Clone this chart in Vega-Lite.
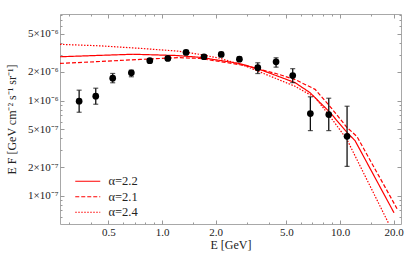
{
  "$schema": "https://vega.github.io/schema/vega-lite/v6.json",
  "width": 341,
  "height": 210,
  "autosize": "none",
  "padding": {"left": 60, "top": 14, "right": 4, "bottom": 32},
  "background": "white",
  "config": {
    "view": {"stroke": "#a8a8a8", "strokeWidth": 1},
    "axis": {
      "domain": false, "grid": false,
      "labelFont": "Liberation Serif", "titleFont": "Liberation Serif",
      "labelColor": "#222", "titleColor": "#222", "tickColor": "#999",
      "titleFontWeight": "normal", "labelFontSize": 11, "titleFontSize": 12
    },
    "legend": {
      "labelFont": "Liberation Serif", "labelFontSize": 12.5, "labelColor": "#222"
    }
  },
  "datasets": {
    "pts": [
      {"E": 0.342, "F": 0.983e-6, "lo": 0.753e-6, "hi": 1.284e-6},
      {"E": 0.424, "F": 1.110e-6, "lo": 0.914e-6, "hi": 1.347e-6},
      {"E": 0.528, "F": 1.717e-6, "lo": 1.536e-6, "hi": 1.923e-6},
      {"E": 0.672, "F": 1.957e-6, "lo": 1.776e-6, "hi": 2.084e-6},
      {"E": 0.853, "F": 2.618e-6, "lo": 2.49e-6, "hi": 2.75e-6},
      {"E": 1.077, "F": 2.77e-6, "lo": 2.64e-6, "hi": 2.9e-6},
      {"E": 1.364, "F": 3.2e-6, "lo": 3.05e-6, "hi": 3.36e-6},
      {"E": 1.72, "F": 2.88e-6, "lo": 2.75e-6, "hi": 3.03e-6},
      {"E": 2.15, "F": 3.05e-6, "lo": 2.9e-6, "hi": 3.2e-6},
      {"E": 2.72, "F": 2.72e-6, "lo": 2.59e-6, "hi": 2.86e-6},
      {"E": 3.45, "F": 2.21e-6, "lo": 1.92e-6, "hi": 2.49e-6},
      {"E": 4.37, "F": 2.55e-6, "lo": 2.24e-6, "hi": 2.81e-6},
      {"E": 5.42, "F": 1.83e-6, "lo": 1.54e-6, "hi": 2.16e-6},
      {"E": 6.81, "F": 0.730e-6, "lo": 0.483e-6, "hi": 1.094e-6},
      {"E": 8.64, "F": 0.712e-6, "lo": 0.483e-6, "hi": 1.057e-6},
      {"E": 10.95, "F": 0.421e-6, "lo": 0.2034e-6, "hi": 0.871e-6}
    ],
    "curves": [
      {"model": "α=2.2", "E": 0.267, "F": 2.88e-6},
      {"model": "α=2.2", "E": 0.449, "F": 2.98e-6},
      {"model": "α=2.2", "E": 0.687, "F": 3.06e-6},
      {"model": "α=2.2", "E": 1.20, "F": 2.97e-6},
      {"model": "α=2.2", "E": 1.635, "F": 2.84e-6},
      {"model": "α=2.2", "E": 2.71, "F": 2.45e-6},
      {"model": "α=2.2", "E": 3.42, "F": 2.17e-6},
      {"model": "α=2.2", "E": 4.37, "F": 1.83e-6},
      {"model": "α=2.2", "E": 5.59, "F": 1.54e-6},
      {"model": "α=2.2", "E": 6.78, "F": 1.21e-6},
      {"model": "α=2.2", "E": 8.79, "F": 0.748e-6},
      {"model": "α=2.2", "E": 10.95, "F": 0.461e-6},
      {"model": "α=2.2", "E": 12.14, "F": 0.379e-6},
      {"model": "α=2.2", "E": 20.1, "F": 6.62e-8},
      {"model": "α=2.1", "E": 0.267, "F": 2.45e-6},
      {"model": "α=2.1", "E": 0.449, "F": 2.57e-6},
      {"model": "α=2.1", "E": 0.752, "F": 2.70e-6},
      {"model": "α=2.1", "E": 1.23, "F": 2.82e-6},
      {"model": "α=2.1", "E": 1.635, "F": 2.77e-6},
      {"model": "α=2.1", "E": 2.93, "F": 2.33e-6},
      {"model": "α=2.1", "E": 4.37, "F": 1.92e-6},
      {"model": "α=2.1", "E": 5.59, "F": 1.66e-6},
      {"model": "α=2.1", "E": 7.24, "F": 1.31e-6},
      {"model": "α=2.1", "E": 8.79, "F": 0.865e-6},
      {"model": "α=2.1", "E": 10.95, "F": 0.520e-6},
      {"model": "α=2.1", "E": 12.46, "F": 0.418e-6},
      {"model": "α=2.1", "E": 20.9, "F": 7.3e-8},
      {"model": "α=2.4", "E": 0.267, "F": 3.89e-6},
      {"model": "α=2.4", "E": 0.449, "F": 3.75e-6},
      {"model": "α=2.4", "E": 0.752, "F": 3.53e-6},
      {"model": "α=2.4", "E": 1.23, "F": 3.30e-6},
      {"model": "α=2.4", "E": 1.635, "F": 3.05e-6},
      {"model": "α=2.4", "E": 2.12, "F": 2.77e-6},
      {"model": "α=2.4", "E": 2.93, "F": 2.31e-6},
      {"model": "α=2.4", "E": 4.37, "F": 1.70e-6},
      {"model": "α=2.4", "E": 5.59, "F": 1.41e-6},
      {"model": "α=2.4", "E": 7.24, "F": 1.075e-6},
      {"model": "α=2.4", "E": 8.79, "F": 0.679e-6},
      {"model": "α=2.4", "E": 10.95, "F": 0.389e-6},
      {"model": "α=2.4", "E": 11.37, "F": 0.336e-6},
      {"model": "α=2.4", "E": 18.8, "F": 5.07e-8}
    ]
  },
  "layer": [
    {
      "data": {"name": "curves"},
      "mark": {"type": "line", "clip": true, "strokeWidth": 1.2, "color": "#ff0000"},
      "encoding": {
        "x": {"field": "E", "type": "quantitative",
          "scale": {"type": "log", "domain": [0.267, 22], "nice": false},
          "axis": {"orient": "bottom", "values": [0.5, 1, 2, 5, 10, 20], "format": ".1f", "tickSize": -4, "labelPadding": 6,
            "title": "E [GeV]", "titleX": 170.5, "titleY": 20, "titleBaseline": "middle", "titleAlign": "center"}},
        "y": {"field": "F", "type": "quantitative",
          "scale": {"type": "log", "domain": [5.05e-8, 8.1e-6], "nice": false},
          "axis": {"orient": "left", "values": [1e-7, 2e-7, 5e-7, 1e-6, 2e-6, 5e-6], "tickSize": -4, "labelPadding": 6,
            "labelExpr": "datum.value > 4e-6 ? '5×10⁻⁶' : datum.value > 1.5e-6 ? '2×10⁻⁶' : datum.value > 9e-7 ? '1×10⁻⁶' : datum.value > 4e-7 ? '5×10⁻⁷' : datum.value > 1.5e-7 ? '2×10⁻⁷' : '1×10⁻⁷'",
            "title": "E F [GeV cm⁻² s⁻¹ sr⁻¹]", "titleX": -49, "titleY": 105, "titleAngle": -90, "titleBaseline": "middle", "titleAlign": "center"}},
        "strokeDash": {"field": "model", "type": "nominal",
          "scale": {"domain": ["α=2.2", "α=2.1", "α=2.4"], "range": [[1, 0], [4, 2], [1.5, 1.5]]},
          "legend": {"orient": "none", "legendX": 21.5, "legendY": 161, "title": null, "padding": 0,
            "symbolType": "M-2.5,0H2.5", "symbolSize": 100, "symbolStrokeColor": "#ff0000", "symbolFillColor": "transparent",
            "symbolStrokeWidth": 1.2, "labelOffset": 14.5, "rowPadding": 2.5}}
      }
    },
    {
      "data": {"name": "pts"},
      "mark": {"type": "rule", "color": "#111", "strokeWidth": 1.3},
      "encoding": {
        "x": {"field": "E", "type": "quantitative",
          "scale": {"type": "log", "domain": [0.267, 22], "nice": false},
          "axis": {"orient": "bottom", "values": [0.3, 0.4, 0.6, 0.7, 0.8, 0.9, 1.5, 3, 4, 6, 7, 8, 9, 15], "labels": false, "tickSize": -2, "title": null}},
        "y": {"field": "lo", "type": "quantitative",
          "scale": {"type": "log", "domain": [5.05e-8, 8.1e-6], "nice": false},
          "axis": {"orient": "left", "values": [6e-8, 7e-8, 8e-8, 9e-8, 3e-7, 4e-7, 6e-7, 7e-7, 8e-7, 9e-7, 3e-6, 4e-6, 6e-6, 7e-6, 8e-6], "labels": false, "tickSize": -2, "title": null}},
        "y2": {"field": "hi"}
      }
    },
    {
      "data": {"name": "pts"},
      "mark": {"type": "tick", "orient": "horizontal", "size": 5, "thickness": 1.2, "color": "#111"},
      "encoding": {
        "x": {"field": "E", "type": "quantitative",
          "scale": {"type": "log", "domain": [0.267, 22], "nice": false},
          "axis": {"orient": "top", "values": [0.5, 1, 2, 5, 10, 20], "labels": false, "tickSize": -4, "title": null}},
        "y": {"field": "lo", "type": "quantitative",
          "scale": {"type": "log", "domain": [5.05e-8, 8.1e-6], "nice": false},
          "axis": {"orient": "right", "values": [1e-7, 2e-7, 5e-7, 1e-6, 2e-6, 5e-6], "labels": false, "tickSize": -4, "title": null}}
      }
    },
    {
      "data": {"name": "pts"},
      "mark": {"type": "tick", "orient": "horizontal", "size": 5, "thickness": 1.2, "color": "#111"},
      "encoding": {
        "x": {"field": "E", "type": "quantitative",
          "scale": {"type": "log", "domain": [0.267, 22], "nice": false},
          "axis": {"orient": "top", "values": [0.3, 0.4, 0.6, 0.7, 0.8, 0.9, 1.5, 3, 4, 6, 7, 8, 9, 15], "labels": false, "tickSize": -2, "title": null}},
        "y": {"field": "hi", "type": "quantitative",
          "scale": {"type": "log", "domain": [5.05e-8, 8.1e-6], "nice": false},
          "axis": {"orient": "right", "values": [6e-8, 7e-8, 8e-8, 9e-8, 3e-7, 4e-7, 6e-7, 7e-7, 8e-7, 9e-7, 3e-6, 4e-6, 6e-6, 7e-6, 8e-6], "labels": false, "tickSize": -2, "title": null}}
      }
    },
    {
      "data": {"name": "pts"},
      "mark": {"type": "circle", "size": 45, "color": "#000", "opacity": 1},
      "encoding": {
        "x": {"field": "E", "type": "quantitative",
          "scale": {"type": "log", "domain": [0.267, 22], "nice": false}, "axis": null},
        "y": {"field": "F", "type": "quantitative",
          "scale": {"type": "log", "domain": [5.05e-8, 8.1e-6], "nice": false}, "axis": null}
      }
    }
  ],
  "resolve": {"axis": {"x": "independent", "y": "independent"}}
}
